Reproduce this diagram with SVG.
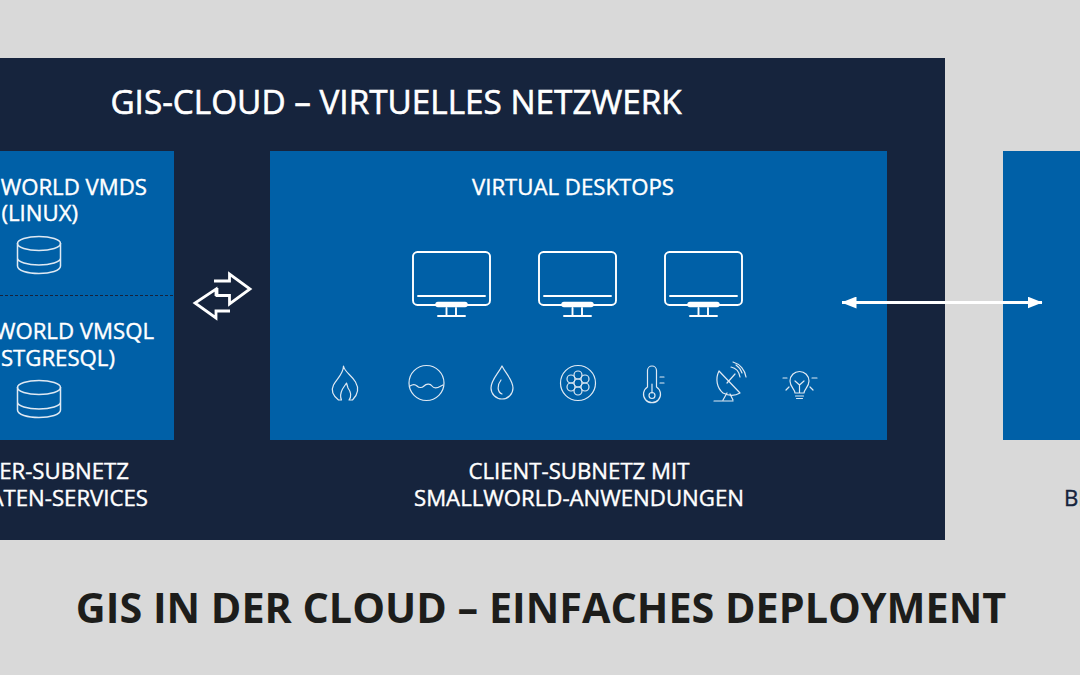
<svg xmlns="http://www.w3.org/2000/svg" width="1080" height="675" viewBox="0 0 1080 675">
<defs>
<style>
text{font-family:"Open Sans","Liberation Sans",sans-serif;font-weight:400;fill:#fff;stroke:#fff;stroke-width:.4}
.h{font-size:22.200px}
.m{text-anchor:middle}
.e{text-anchor:end}
.i{fill:none;stroke:#dfe9f3;stroke-width:1.2;stroke-linecap:round;stroke-linejoin:round}
.mon{fill:none;stroke:#fff;stroke-width:1.9;stroke-linecap:round;stroke-linejoin:round}
.blue{fill:#0060a7}
</style>
<marker id="ah" viewBox="0 0 15 12" refX="14.500" refY="6" markerWidth="15" markerHeight="12" markerUnits="userSpaceOnUse" orient="auto-start-reverse"><path d="M0 0L15 6L0 12Z" fill="#fff"/></marker>
<g id="db" class="i" style="stroke-width:1.5"><ellipse cx="39" cy="243.500" rx="21.500" ry="7"/><path d="M17.500 243.500V266c0 4.500 10 7.500 21.500 7.500s21.500-3 21.500-7.500V243.500M17.500 258c0 4 10 7 21.500 7s21.500-3 21.500-7"/></g>
<g id="monitor" class="mon"><rect x="413" y="252" width="77" height="53" rx="4.500"/><path d="M418 296H485"/><path d="M438 304.500H465" stroke-width="5.500"/><path d="M446.500 308V316M456 308V316M438 316H465"/></g>
</defs>
<rect width="1080" height="675" fill="#d9d9d9"/>
<g id="vnet"><rect x="-2" y="58" width="947" height="482" fill="#16243d"/><text x="396" y="114" class="m" style="font-size:33.300px;stroke-width:.6">GIS-CLOUD – VIRTUELLES NETZWERK</text></g>
<g id="server">
<rect x="-2" y="151" width="176" height="289" class="blue"/>
<path d="M0 295.500H174" stroke="#16243d" stroke-width="1.200" stroke-dasharray="3 2" fill="none"/>
<text x="147" y="195" class="h e">WORLD VMDS</text>
<text x="78" y="221" class="h e">(LINUX)</text>
<use href="#db"/>
<text x="154" y="339" class="h e">WORLD VMSQL</text>
<text x="115" y="366" class="h e">STGRESQL)</text>
<use href="#db" y="144"/>
<text x="129" y="479" class="h e">ER-SUBNETZ</text>
<text x="148" y="506" class="h e">ATEN-SERVICES</text>
</g>
<g id="client">
<rect x="270" y="151" width="617" height="289" class="blue"/>
<text x="573" y="195" class="h m">VIRTUAL DESKTOPS</text>
<use href="#monitor"/><use href="#monitor" x="126"/><use href="#monitor" x="252"/>
<g class="i">
<path d="M343.500 366c1 6 8 9 12 16 3.500 6 3 12-3 18h-3.500c3-4 2-8-1-12l-1.500-5-4 6c-2 4-3 7-1 11h-3c-5-4-8-9-5-15 3-6 10-11 10-19z"/>
<circle cx="426.500" cy="383" r="17.500"/><path d="M410 386c3-2 5-2 7 0s5 2 7 0 6-3 8 0 6 2 11-1"/>
<path d="M502 366c4 8 11 14 11 22a11 11 0 0 1-22 0c0-8 7-14 11-22z"/><path d="M501 380c-4 5-4 12 1 14"/>
<circle cx="578" cy="383" r="17.500"/>
<circle cx="578" cy="383" r="4"/><circle cx="578" cy="375" r="4"/><circle cx="578" cy="391" r="4"/><circle cx="571" cy="379" r="4"/><circle cx="585" cy="379" r="4"/><circle cx="571" cy="387" r="4"/><circle cx="585" cy="387" r="4"/>
<path d="M647.500 387V370.500a4.500 4.500 0 0 1 9 0V387a8.500 8.500 0 1 1-9 0z"/><path d="M652 384V393"/><circle cx="652" cy="395.500" r="3"/><path d="M660 377H664M660 383H664"/>
<path d="M719 371c-4 8-2 17 4 22 6 3 12 3 17 0z"/><path d="M727 383L735 374M731 367c5 1 8 4 9 10M733 362c7 2 12 8 13 15M736 365c3 2 5 5 6 8"/><path d="M727 393L723 400M730 394L733 400M714 401H733"/>
<path d="M795 393c0-4-5-6-5-12a9.500 9.500 0 0 1 19 0c0 6-5 8-5 12zM795.500 396H803.500M796.500 398.500H802.500M795 381L799.500 385L804 381M799.500 385V393M783 378H787M812 378H817M786 390L789 387M813 390L810 387"/>
</g>
<text x="579" y="479" class="h m">CLIENT-SUBNETZ MIT</text>
<text x="579" y="506" class="h m">SMALLWORLD-ANWENDUNGEN</text>
</g>
<g id="users"><rect x="1003" y="151" width="80" height="289" class="blue"/><text x="1064" y="506" class="h" style="fill:#16243d;stroke:#16243d">BE</text></g>
<g id="connectors">
<path d="M842 302.500H1042" stroke="#fff" stroke-width="2.800" fill="none" marker-start="url(#ah)" marker-end="url(#ah)"/>
<path d="M214 281H229.500V274L250 289L229.500 304V295.500H217V288" fill="none" stroke="#fff" stroke-width="2.800"/>
<path d="M230 311H216V318L195 303L216 289V296" fill="none" stroke="#fff" stroke-width="2.800"/>
</g>
<g id="title"><text x="541" y="623" class="m" style="font-size:41.300px;font-weight:700;fill:#1d1d1b;stroke:none">GIS IN DER CLOUD – EINFACHES DEPLOYMENT</text></g>
</svg>
